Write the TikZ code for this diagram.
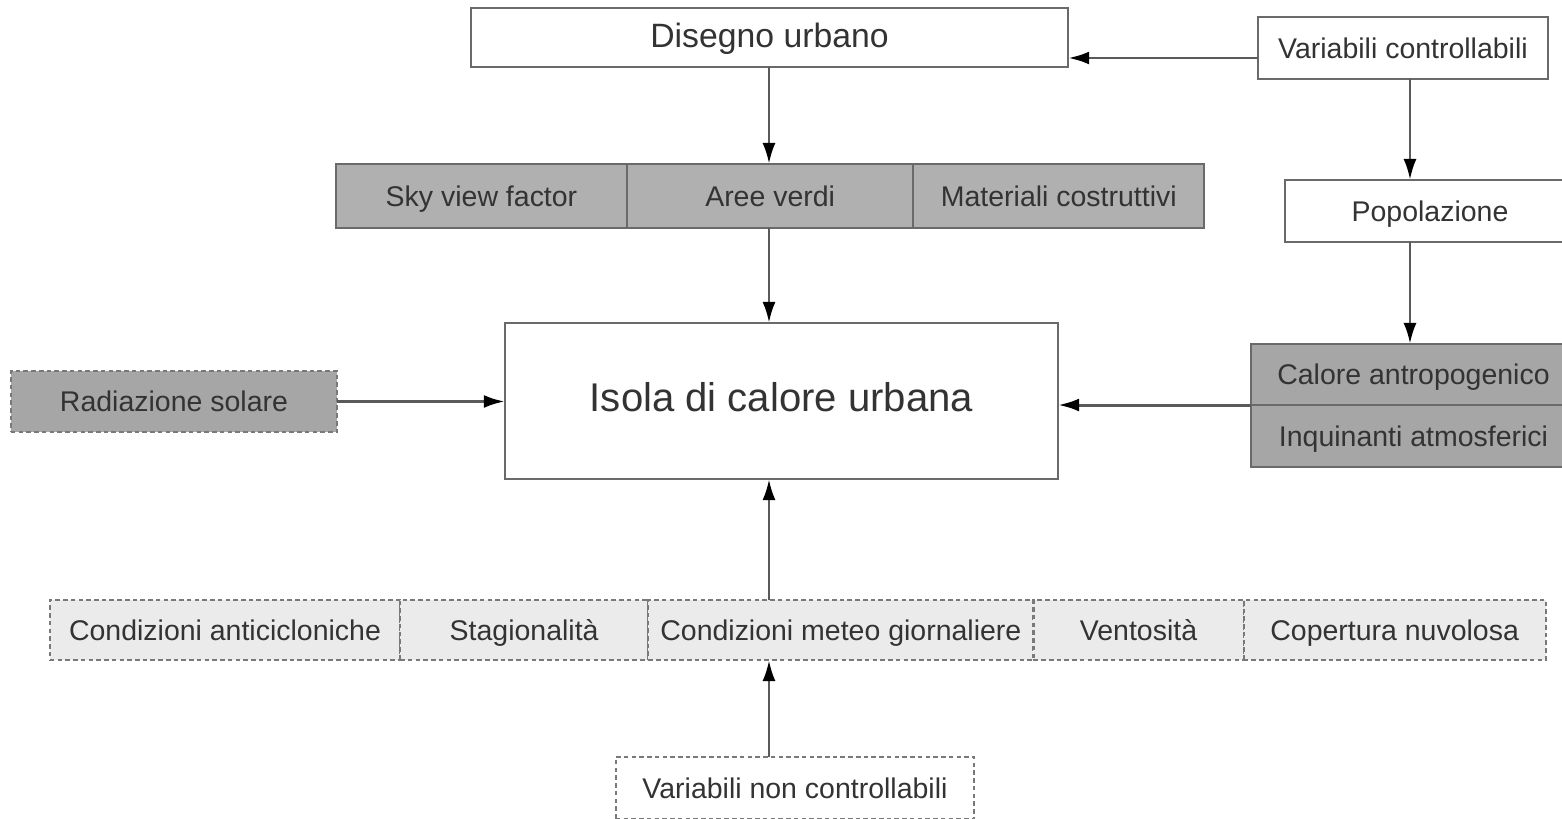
\documentclass[tikz,border=0pt]{standalone}
\usepackage{fontspec}
\setmainfont{Liberation Sans}
\usetikzlibrary{arrows.meta,positioning}
\definecolor{txtgray}{HTML}{333333}
\definecolor{boxline}{HTML}{6A6A6A}
\definecolor{arrline}{HTML}{5A5A5A}
\definecolor{midfill}{HTML}{B0B0B0}
\definecolor{darkfill}{HTML}{A6A6A6}
\definecolor{lightfill}{HTML}{EBEBEB}
\tikzset{
	box/.style={draw=boxline,line width=0.6pt,fill=white,inner sep=0pt,outer sep=0pt,minimum height=0.62cm,text height=1.55ex,text depth=0.45ex},
	dashbox/.style={box,draw=boxline!90,dash pattern=on 1.3pt off 0.9pt},
	arr/.style={draw=arrline,line width=0.85pt,-{Latex[length=2.1mm,width=1.3mm,color=black]}}
}
\begin{document}
\begin{tikzpicture}[x=0.01cm,y=-0.01cm,font=\fontsize{8.1}{10}\selectfont,text=txtgray]
	\useasboundingbox (0,0) rectangle (1562,819);
	\node[box,minimum width=5.97cm,minimum height=0.59cm,font=\fontsize{9.6}{11}\selectfont] (dis) at (769.5,37.5) {Disegno urbano};
	\node[box,minimum width=2.90cm] (varc) at (1403,48) {Variabili controllabili};
	\node[box,fill=midfill,minimum width=2.91cm,minimum height=0.64cm] (sky) at (481.5,196) {Sky view factor};
	\node[box,fill=midfill,minimum width=2.86cm,minimum height=0.64cm,right=0pt of sky] (aree) {Aree verdi};
	\node[box,fill=midfill,minimum width=2.91cm,minimum height=0.64cm,right=0pt of aree] (mat) {Materiali costruttivi};
	\node[box,minimum width=5.53cm,minimum height=1.56cm,font=\fontsize{11.4}{13}\selectfont] (uhi) at (781.5,401) {Isola di calore urbana};
	\node[dashbox,fill=darkfill,minimum width=3.26cm,minimum height=0.61cm] (rad) at (174,401.5) {Radiazione solare};
	\node[box,minimum width=2.90cm] (pop) at (1430,211) {Popolazione};
	\node[box,fill=darkfill,minimum width=3.25cm,minimum height=0.61cm] (cal) at (1413.5,374.5) {Calore antropogenico};
	\node[box,fill=darkfill,minimum width=3.25cm,minimum height=0.62cm,below=0pt of cal] (inq) {Inquinanti atmosferici};
	% variabili non controllabili
	\node[dashbox,fill=lightfill,minimum width=3.50cm,minimum height=0.60cm] (cond) at (225,630) {Condizioni anticicloniche};
	\node[dashbox,fill=lightfill,minimum width=2.48cm,minimum height=0.60cm,right=0pt of cond] (stag) {Stagionalità};
	\node[dashbox,fill=lightfill,minimum width=3.85cm,minimum height=0.60cm,right=0pt of stag] (meteo) {Condizioni meteo giornaliere};
	\node[dashbox,fill=lightfill,minimum width=2.10cm,minimum height=0.60cm,right=0pt of meteo] (vent) {Ventosità};
	\node[dashbox,fill=lightfill,minimum width=3.02cm,minimum height=0.60cm,right=0pt of vent] (cop) {Copertura nuvolosa};
	\node[dashbox,minimum width=3.58cm] (vnc) at (795,788) {Variabili non controllabili};
	\coordinate (mx) at (769,0);
	\coordinate (vx) at (1410,0);
	\coordinate (vw) at ([yshift=-0.1cm]varc.west);
	\path[arr] (vw) -- (vw -| dis.east);
	\path[arr] (dis.south -| mx) -- (aree.north -| mx);
	\path[arr] (aree.south -| mx) -- (uhi.north -| mx);
	\path[arr] (varc.south -| vx) -- (pop.north -| vx);
	\path[arr] (pop.south -| vx) -- (cal.north -| vx);
	\path[arr] (cal.south west) -- (uhi.east |- cal.south west);
	\path[arr] (rad) -- (uhi.west |- rad);
	\path[arr] (meteo.north -| mx) -- (uhi.south -| mx);
	\path[arr] (vnc.north -| mx) -- (meteo.south -| mx);
\end{tikzpicture}
\end{document}
